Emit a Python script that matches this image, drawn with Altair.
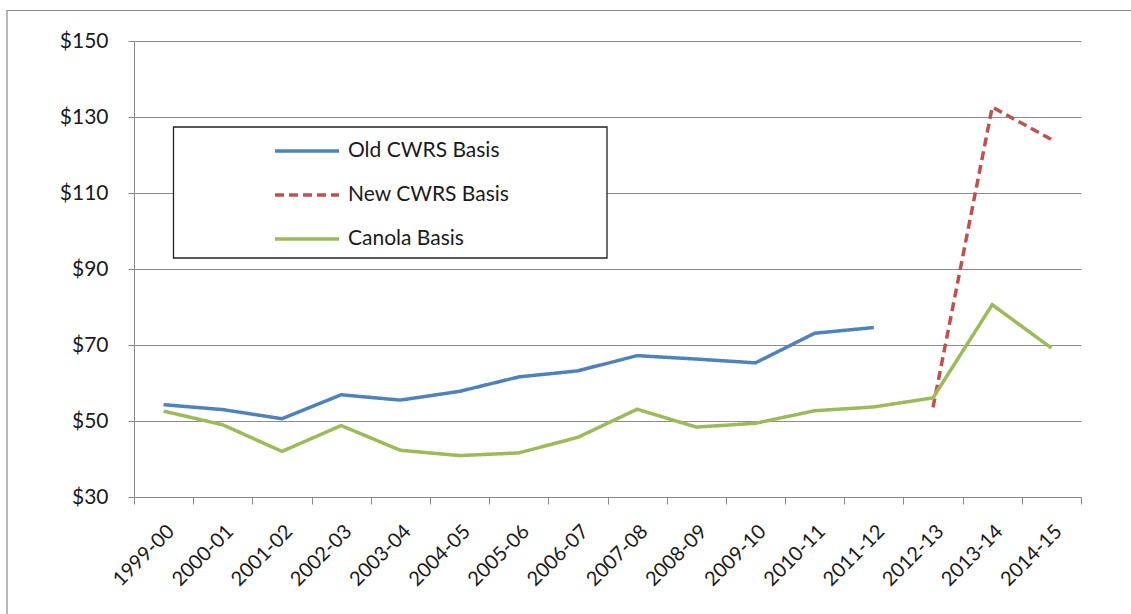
import altair as alt
import pandas as pd

categories = ["1999-00", "2000-01", "2001-02", "2002-03", "2003-04", "2004-05",
              "2005-06", "2006-07", "2007-08", "2008-09", "2009-10", "2010-11",
              "2011-12", "2012-13", "2013-14", "2014-15"]
old_cwrs = [54.3, 53.0, 50.6, 56.9, 55.5, 57.8, 61.6, 63.2, 67.2, 66.3, 65.3, 73.1, 74.6,
            None, None, None]
new_cwrs = [None] * 13 + [53.6, 132.6, 124.1]
canola = [52.6, 49.0, 42.0, 48.8, 42.3, 40.9, 41.6, 45.7, 53.1, 48.4, 49.4, 52.7, 53.7,
          56.1, 80.6, 69.2]
series_names = ["Old CWRS Basis", "New CWRS Basis", "Canola Basis"]
series_colors = ["#4F81BD", "#C0504D", "#9BBB59"]
series_dash = [[1, 0], [9, 5], [1, 0]]
y_ticks = [30, 50, 70, 90, 110, 130, 150]

rows = []
for name, vals in zip(series_names, [old_cwrs, new_cwrs, canola]):
    for cat, v in zip(categories, vals):
        if v is not None:
            rows.append({"Year": cat, "Value": v, "Series": name})
df = pd.DataFrame(rows)

legend = alt.Legend(
    title=None, orient="none", legendX=139, legendY=76,
    symbolType="stroke", symbolSize=4096, symbolStrokeWidth=3.5,
    labelFont="Lato", labelFontSize=21, labelColor="#1a1a1a", labelOffset=7,
    labelLimit=0, rowPadding=-1, padding=0, symbolOpacity=1,
)

lines = alt.Chart(df).mark_line(strokeWidth=3.5).encode(
    x=alt.X("Year:N", sort=categories,
            scale=alt.Scale(type="band", paddingInner=0, paddingOuter=0),
            axis=alt.Axis(title=None, tickBand="extent", labelAngle=315,
                          labelAlign="right", labelBaseline="top", labelPadding=17,
                          labelFont="Lato", labelFontSize=20, labelColor="#1a1a1a",
                          tickColor="#888888", tickSize=7, domainColor="#888888",
                          grid=False)),
    y=alt.Y("Value:Q", scale=alt.Scale(domain=[30, 150], nice=False, zero=False),
            axis=alt.Axis(title=None, values=y_ticks, format="$d",
                          labelFont="Lato", labelFontSize=21, labelColor="#1a1a1a",
                          labelPadding=20, tickColor="#888888", tickSize=6,
                          domainColor="#888888", gridColor="#8c8c8c", gridWidth=1.2)),
    color=alt.Color("Series:N", scale=alt.Scale(domain=series_names, range=series_colors),
                    legend=legend),
    strokeDash=alt.StrokeDash("Series:N", scale=alt.Scale(domain=series_names, range=series_dash),
                              legend=legend),
)

one = pd.DataFrame({"k": [0]})
frame = alt.Chart(one).mark_rect(fillOpacity=0, stroke="#8a8a8a", strokeWidth=1.2).encode(
    x=alt.value(-127), x2=alt.value(1005), y=alt.value(-30.5), y2=alt.value(580))
legend_box = alt.Chart(one).mark_rect(fill="white", stroke="#222222", strokeWidth=1.3).encode(
    x=alt.value(39.5), x2=alt.value(473), y=alt.value(86), y2=alt.value(217))

chart = alt.layer(frame, legend_box, lines).properties(
    width=947, height=456,
    padding={"left": 134, "top": 41, "right": 50, "bottom": 117},
    autosize=alt.AutoSizeParams(type="none"),
    background="white",
).configure_view(stroke=None)

chart.save("out.html", embed_options={"renderer": "svg", "actions": False})
